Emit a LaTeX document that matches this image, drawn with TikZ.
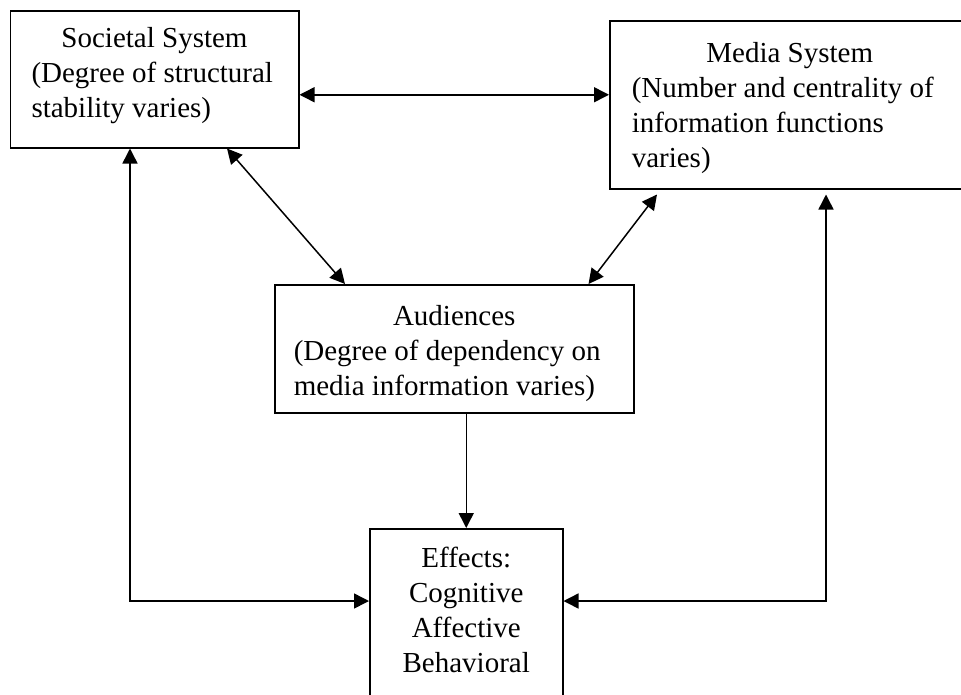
\documentclass[tikz,border=0pt]{standalone}
\usepackage{fontspec}
\setmainfont{Liberation Serif}
\usepackage{tikz}
\usetikzlibrary{positioning,arrows.meta,calc}

\begin{document}
\begin{tikzpicture}[x=1pt, y=-1pt, line width=1.5pt,
    >={Triangle[length=15pt,width=15pt]},
    box/.style={draw, rectangle, anchor=north west, inner sep=0pt,
        font=\fontsize{29pt}{35pt}\selectfont}]
    \useasboundingbox (0,0) rectangle (961,694);
    \clip (0,0) rectangle (961,694);

    \node[box, minimum width=288.5pt, minimum height=137pt, text width=246pt, align=flush left, text depth=84pt] (soc) at (9.5,10)
        {\hfill Societal System\hfill\null\\(Degree of structural\\stability varies)};
    \node[box, minimum width=360pt, minimum height=168pt, text width=316pt, align=flush left, text height=27pt] (med) at (609,20)
        {\hfill Media System\hfill\null\\(Number and centrality of\\information functions\\varies)};
    \node[box, minimum width=359pt, minimum height=128pt, text width=321pt, align=flush left, text height=29pt] (aud) at (274,284)
        {\hfill Audiences\hfill\null\\(Degree of dependency on\\media information varies)};
    \node[box, minimum width=193pt, minimum height=172pt, align=center, text depth=10pt] (eff) at (369,528)
        {Effects:\\Cognitive\\Affective\\Behavioral};

    % end points on the box edges
    \coordinate (sm) at ([yshift=-15.5pt]soc.east);
    \coordinate (lin) at ([yshift=-73pt]eff.north west);
    \coordinate (rin) at ([yshift=-73pt]eff.north east);

    \draw[<->] (sm) -- (sm -| med.west);
    \draw[<->] ([xshift=217.5pt]soc.south west) -- ([xshift=71pt]aud.north west);
    \draw[<->] ([xshift=48pt,yshift=-5pt]med.south west) -- ([xshift=-46pt]aud.north east);
    \draw[->] (aud.south -| eff.north) -- (eff.north);
    \draw[<->] ([xshift=120.5pt]soc.south west) |- (lin);
    \draw[<->] ([xshift=217pt,yshift=-5pt]med.south west) |- (rin);
\end{tikzpicture}
\end{document}
